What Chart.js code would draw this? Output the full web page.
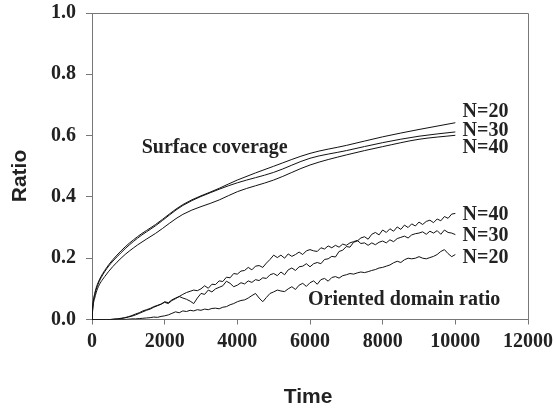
<!DOCTYPE html>
<html>
<head>
<meta charset="utf-8">
<script src="https://cdn.jsdelivr.net/npm/chart.js@4.4.1/dist/chart.umd.min.js"></script>
<style>
  html, body { margin: 0; padding: 0; background: #fff; }
  #wrap { width: 557px; height: 412px; position: relative; }
</style>
</head>
<body>
<div id="wrap"><canvas id="c" width="557" height="412"></canvas></div>
<script>
// ---- data ----
const xTicks = [0, 2000, 4000, 6000, 8000, 10000, 12000];
const yTicks = [0.0, 0.2, 0.4, 0.6, 0.8, 1.0];

const surfaceTime = [0, 25, 75, 150, 350, 800, 1250, 1750, 2500, 3500, 4000, 5000, 6000, 7000, 8000, 9000, 10000];
const surfaceN20 = [0, 0.05, 0.085, 0.115, 0.16, 0.224, 0.27, 0.31, 0.375, 0.428, 0.455, 0.5, 0.542, 0.568, 0.596, 0.62, 0.642];
const surfaceN30 = [0, 0.046, 0.08, 0.11, 0.156, 0.218, 0.265, 0.306, 0.372, 0.425, 0.446, 0.48, 0.526, 0.551, 0.577, 0.598, 0.612];
const surfaceN40 = [0, 0.04, 0.07, 0.1, 0.14, 0.2, 0.243, 0.281, 0.343, 0.39, 0.417, 0.455, 0.504, 0.537, 0.564, 0.588, 0.601];

const orientTime = [0,100,200,300,400,500,600,700,800,900,1000,1100,1200,1300,1400,1500,1600,1700,1800,1900,
  2000,2100,2200,2300,2400,2500,2600,2700,2800,2900,3000,3100,3200,3300,3400,3500,3600,3700,3800,3900,
  4000,4100,4200,4300,4400,4500,4600,4700,4800,4900,5000,5100,5200,5300,5400,5500,5600,5700,5800,5900,
  6000,6100,6200,6300,6400,6500,6600,6700,6800,6900,7000,7100,7200,7300,7400,7500,7600,7700,7800,7900,
  8000,8100,8200,8300,8400,8500,8600,8700,8800,8900,9000,9100,9200,9300,9400,9500,9600,9700,9800,9900,10000];
const orientN40 = [0,0,0,0,0,0,0.001,0.002,0.004,0.006,
  0.009,0.013,0.018,0.022,0.028,0.032,0.036,0.042,0.046,0.05,
  0.056,0.052,0.062,0.068,0.075,0.07,0.066,0.06,0.052,0.07,
  0.085,0.082,0.096,0.09,0.1,0.105,0.11,0.125,0.118,0.107,
  0.112,0.12,0.116,0.126,0.121,0.13,0.127,0.136,0.134,0.146,
  0.15,0.143,0.155,0.146,0.162,0.168,0.16,0.172,0.174,0.182,
  0.172,0.182,0.186,0.182,0.196,0.198,0.206,0.204,0.222,0.226,
  0.238,0.236,0.252,0.256,0.266,0.27,0.262,0.278,0.284,0.276,
  0.292,0.284,0.296,0.288,0.302,0.294,0.308,0.3,0.312,0.305,
  0.318,0.31,0.32,0.324,0.316,0.328,0.322,0.336,0.33,0.344,0.346];
const orientN30 = [0,0,0,0,0,0,0.001,0.002,0.003,0.005,
  0.008,0.011,0.015,0.02,0.025,0.03,0.034,0.04,0.045,0.05,
  0.058,0.055,0.064,0.07,0.075,0.082,0.088,0.092,0.096,0.094,
  0.1,0.11,0.102,0.115,0.114,0.126,0.124,0.138,0.136,0.15,
  0.148,0.158,0.16,0.17,0.162,0.174,0.176,0.17,0.184,0.196,
  0.21,0.202,0.21,0.2,0.214,0.206,0.212,0.22,0.212,0.224,
  0.228,0.224,0.222,0.234,0.23,0.24,0.234,0.242,0.236,0.246,
  0.242,0.25,0.254,0.258,0.248,0.25,0.242,0.25,0.244,0.252,
  0.256,0.25,0.26,0.254,0.264,0.268,0.272,0.266,0.276,0.28,
  0.282,0.286,0.278,0.288,0.282,0.29,0.278,0.292,0.284,0.282,0.277];
const orientN20 = [0,0,0,0,0,0,0,0,0,0,
  0.001,0.002,0.002,0.003,0.004,0.005,0.006,0.008,0.007,0.01,
  0.012,0.015,0.02,0.025,0.022,0.028,0.026,0.03,0.028,0.032,
  0.03,0.034,0.032,0.036,0.037,0.035,0.04,0.042,0.048,0.052,
  0.058,0.062,0.064,0.07,0.078,0.085,0.07,0.058,0.072,0.085,
  0.09,0.096,0.093,0.091,0.1,0.107,0.098,0.112,0.118,0.108,
  0.12,0.126,0.115,0.13,0.134,0.125,0.137,0.14,0.135,0.143,
  0.146,0.15,0.148,0.152,0.155,0.153,0.156,0.16,0.163,0.168,
  0.17,0.174,0.178,0.185,0.19,0.186,0.195,0.2,0.198,0.2,
  0.205,0.2,0.198,0.202,0.206,0.212,0.222,0.228,0.215,0.205,0.212];

// ---- build ----
const pts = (xs, ys) => xs.map((x, i) => ({ x: x, y: ys[i] }));
const lineStyle = { borderColor: '#111', borderWidth: 1, pointRadius: 0, fill: false };

const serif = '"Liberation Serif", "Times New Roman", serif';
const sans = '"Liberation Sans", Arial, sans-serif';

const annotations = {
  id: 'annotations',
  afterDatasetsDraw(chart) {
    const { ctx, chartArea: a, scales: { x, y } } = chart;
    ctx.save();
    // top & right frame lines
    ctx.strokeStyle = '#777';
    ctx.lineWidth = 1;
    ctx.beginPath();
    ctx.moveTo(a.left, a.top + 0.5);
    ctx.lineTo(a.right + 0.5, a.top + 0.5);
    ctx.lineTo(a.right + 0.5, a.bottom);
    ctx.stroke();

    ctx.fillStyle = '#222';
    ctx.font = 'bold 20px ' + serif;
    ctx.textBaseline = 'alphabetic';
    ctx.textAlign = 'left';
    const put = (t, xv, yv) => ctx.fillText(t, x.getPixelForValue(xv), y.getPixelForValue(yv));
    put('Surface coverage', 1368, 0.544);
    put('N=20', 10200, 0.66);
    put('N=30', 10200, 0.599);
    put('N=40', 10200, 0.543);
    put('N=40', 10200, 0.325);
    put('N=30', 10200, 0.256);
    put('N=20', 10200, 0.184);
    put('Oriented domain ratio', 5945, 0.047);

    // axis titles
    ctx.font = 'bold 21px ' + sans;
    ctx.textAlign = 'center';
    ctx.textBaseline = 'middle';
    ctx.fillText('Time', 308, 397);
    ctx.translate(20, 176);
    ctx.rotate(-Math.PI / 2);
    ctx.fillText('Ratio', 0, 0);
    ctx.restore();
  }
};

new Chart(document.getElementById('c'), {
  type: 'line',
  data: {
    datasets: [
      Object.assign({ label: 'Surface N=20', data: pts(surfaceTime, surfaceN20), cubicInterpolationMode: 'monotone' }, lineStyle),
      Object.assign({ label: 'Surface N=30', data: pts(surfaceTime, surfaceN30), cubicInterpolationMode: 'monotone' }, lineStyle),
      Object.assign({ label: 'Surface N=40', data: pts(surfaceTime, surfaceN40), cubicInterpolationMode: 'monotone' }, lineStyle),
      Object.assign({ label: 'Oriented N=40', data: pts(orientTime, orientN40), tension: 0 }, lineStyle),
      Object.assign({ label: 'Oriented N=30', data: pts(orientTime, orientN30), tension: 0 }, lineStyle),
      Object.assign({ label: 'Oriented N=20', data: pts(orientTime, orientN20), tension: 0 }, lineStyle)
    ]
  },
  options: {
    responsive: false,
    animation: false,
    events: [],
    layout: { padding: { left: 0, right: 29, top: 13, bottom: 0 } },
    plugins: { legend: { display: false }, tooltip: { enabled: false } },
    scales: {
      x: {
        type: 'linear', min: 0, max: 12000,
        afterBuildTicks: s => { s.ticks = xTicks.map(v => ({ value: v })); },
        afterFit: s => { s.height = 92.5; s.paddingLeft = 0; s.paddingRight = 0; },
        grid: { drawOnChartArea: false, drawTicks: true, tickLength: 5, color: '#777' },
        border: { display: true, color: '#777', width: 1 },
        ticks: { color: '#222', font: { family: serif, size: 20, weight: 'bold' }, padding: 5, maxRotation: 0, autoSkip: false,
                 callback: v => String(v) }
      },
      y: {
        type: 'linear', min: 0, max: 1,
        afterBuildTicks: s => { s.ticks = yTicks.map(v => ({ value: v })); },
        afterFit: s => { s.width = 92; s.paddingTop = 0; s.paddingBottom = 0; },
        grid: { drawOnChartArea: false, drawTicks: true, tickLength: 6, color: '#777' },
        border: { display: true, color: '#777', width: 1 },
        ticks: { color: '#222', font: { family: serif, size: 20, weight: 'bold' }, padding: 10,
                 callback: v => Number(v).toFixed(1) }
      }
    }
  },
  plugins: [annotations]
});
</script>
</body>
</html>
